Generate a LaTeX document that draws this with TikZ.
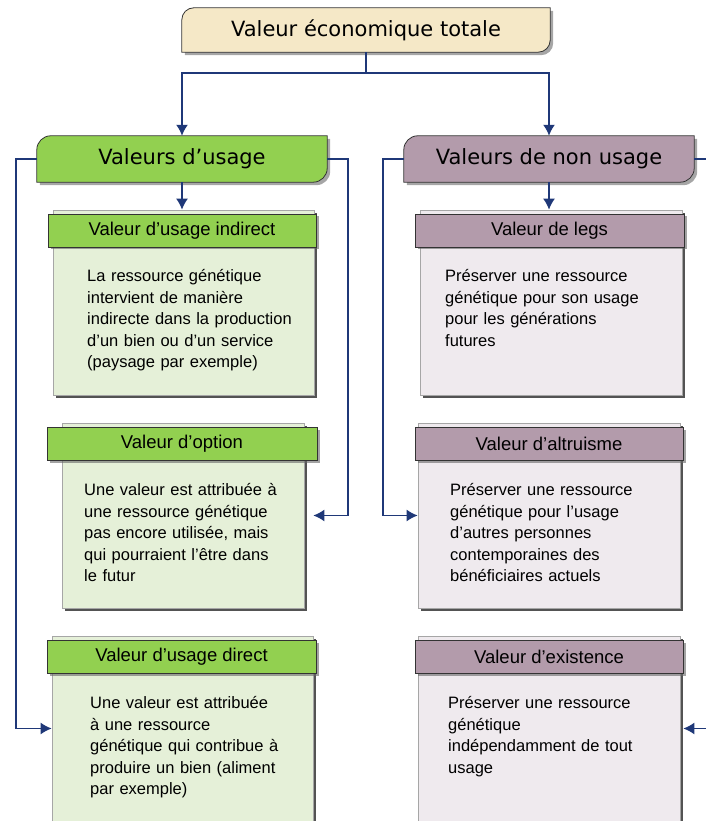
\documentclass[tikz,border=0pt]{standalone}
\usepackage{fontspec}
\setmainfont{Liberation Sans}
\newfontfamily\titlef{DejaVu Sans}
\usetikzlibrary{arrows.meta,shadows}
\pgfdeclarelayer{bg}
\pgfsetlayers{bg,main}
\definecolor{beige}{HTML}{F5E8C7}
\definecolor{gr}{HTML}{92D050}
\definecolor{grl}{HTML}{E5F0D8}
\definecolor{mv}{HTML}{B39BAB}
\definecolor{mvl}{HTML}{EFEAEE}
\definecolor{navy}{HTML}{1F3878}
\tikzset{
  leaf/.style={draw=none, inner sep=0pt, font=\titlef\fontsize{21}{25}\selectfont},
  card/.style={draw=gray!70, line width=0.6pt, inner sep=0pt, minimum height=185pt,
     drop shadow={shadow xshift=3pt, shadow yshift=-3pt, fill=black!75, opacity=0.9}},
  hdr/.style={draw=black!80, line width=0.8pt, inner sep=0pt, minimum height=33pt,
     font=\fontsize{18.5}{22}\selectfont,
     drop shadow={shadow xshift=2.5pt, shadow yshift=-2.5pt, fill=black!60, opacity=0.6}},
  body/.style={anchor=base west, inner sep=0pt, text width=240pt, align=left,
     font=\fontsize{16.5}{21.4}\selectfont},
  conn/.style={draw=navy, line width=1.6pt},
  arr/.style={conn, -{Latex[length=11pt,width=12pt]}},
}
\newcommand{\leafshape}[3]{%
  \path[draw=black!80, fill=#2, line width=0.8pt,
     drop shadow={shadow xshift=3pt, shadow yshift=-3pt, fill=black, opacity=0.35}]
    (#1.south west) -- ([yshift=-#3]#1.north west)
    arc[start angle=180, end angle=90, radius=#3] -- (#1.north east)
    -- ([yshift=#3]#1.south east)
    arc[start angle=0, end angle=-90, radius=#3] -- cycle;}
\begin{document}
\begin{tikzpicture}[x=1pt,y=1pt]
\useasboundingbox (0,0) rectangle (705,821);
% top and category boxes
\node[leaf, minimum width=368pt, minimum height=44pt] (top) at (366,791) {Valeur économique totale};
\node[leaf, minimum width=290pt, minimum height=46pt] (u) at (182,662) {Valeurs d’usage};
\node[leaf, minimum width=290pt, minimum height=46pt] (n) at (549,662) {Valeurs de non usage};
\begin{pgfonlayer}{bg}
\leafshape{top}{beige}{12pt}
\leafshape{u}{gr}{14pt}
\leafshape{n}{mv}{14pt}
\end{pgfonlayer}
% left cards
\node[card, fill=grl, minimum width=261pt] (c1) at (183.5,518.5) {};
\node[hdr, fill=gr, minimum width=268pt] (h1) at (182,590.5) {Valeur d’usage indirect};
\node[body] (t1) at (87,539) {La ressource génétique\\intervient de manière\\indirecte dans la production\\d’un bien ou d’un service\\(paysage par exemple)};
\node[card, fill=grl, minimum width=242pt] (c2) at (183,305.5) {};
\node[hdr, fill=gr, minimum width=270pt] (h2) at (182,377) {Valeur d’option};
\node[body] (t2) at (84,325) {Une valeur est attribuée à\\une ressource génétique\\pas encore utilisée, mais\\qui pourraient l’être dans\\le futur};
\node[card, fill=grl, minimum width=261pt] (c3) at (182.5,92.5) {};
\node[hdr, fill=gr, minimum width=269pt] (h3) at (181.5,164) {Valeur d’usage direct};
\node[body] (t3) at (90,112) {Une valeur est attribuée\\à une ressource\\génétique qui contribue à\\produire un bien (aliment\\par exemple)};
% right cards
\node[card, fill=mvl, minimum width=262pt] (c4) at (551,518.5) {};
\node[hdr, fill=mv, minimum width=269pt] (h4) at (549.5,590.5) {Valeur de legs};
\node[body] (t4) at (445,539) {Préserver une ressource\\génétique pour son usage\\pour les générations\\futures};
\node[card, fill=mvl, minimum width=262pt] (c5) at (549,305.5) {};
\node[hdr, fill=mv, minimum width=268pt] (h5) at (549,377) {Valeur d’altruisme};
\node[body] (t5) at (450,325) {Préserver une ressource\\génétique pour l’usage\\d’autres personnes\\contemporaines des\\bénéficiaires actuels};
\node[card, fill=mvl, minimum width=262pt] (c6) at (549,92.5) {};
\node[hdr, fill=mv, minimum width=268pt] (h6) at (549,164) {Valeur d’existence};
\node[body] (t6) at (448,112) {Préserver une ressource\\génétique\\indépendamment de tout\\usage};
% connectors
\draw[conn] (top.south) -- ++(0,-21) coordinate (j);
\draw[arr] (j) -| (u.north);
\draw[arr] (j) -| (n.north);
\draw[arr] (u.south) -- (u.south |- c1.north);
\draw[arr] (n.south) -- (n.south |- c4.north);
\draw[arr] (u.west) -- ++(-21,0) |- (c3.west);
\draw[arr] (u.east) -- ++(21,0) |- ([xshift=9pt]c2.east);
\draw[arr] (n.west) -- ++(-21,0) |- (c5.west);
\draw[arr] (n.east) -- ++(25,0) |- ([xshift=3pt]c6.east);
\end{tikzpicture}
\end{document}
